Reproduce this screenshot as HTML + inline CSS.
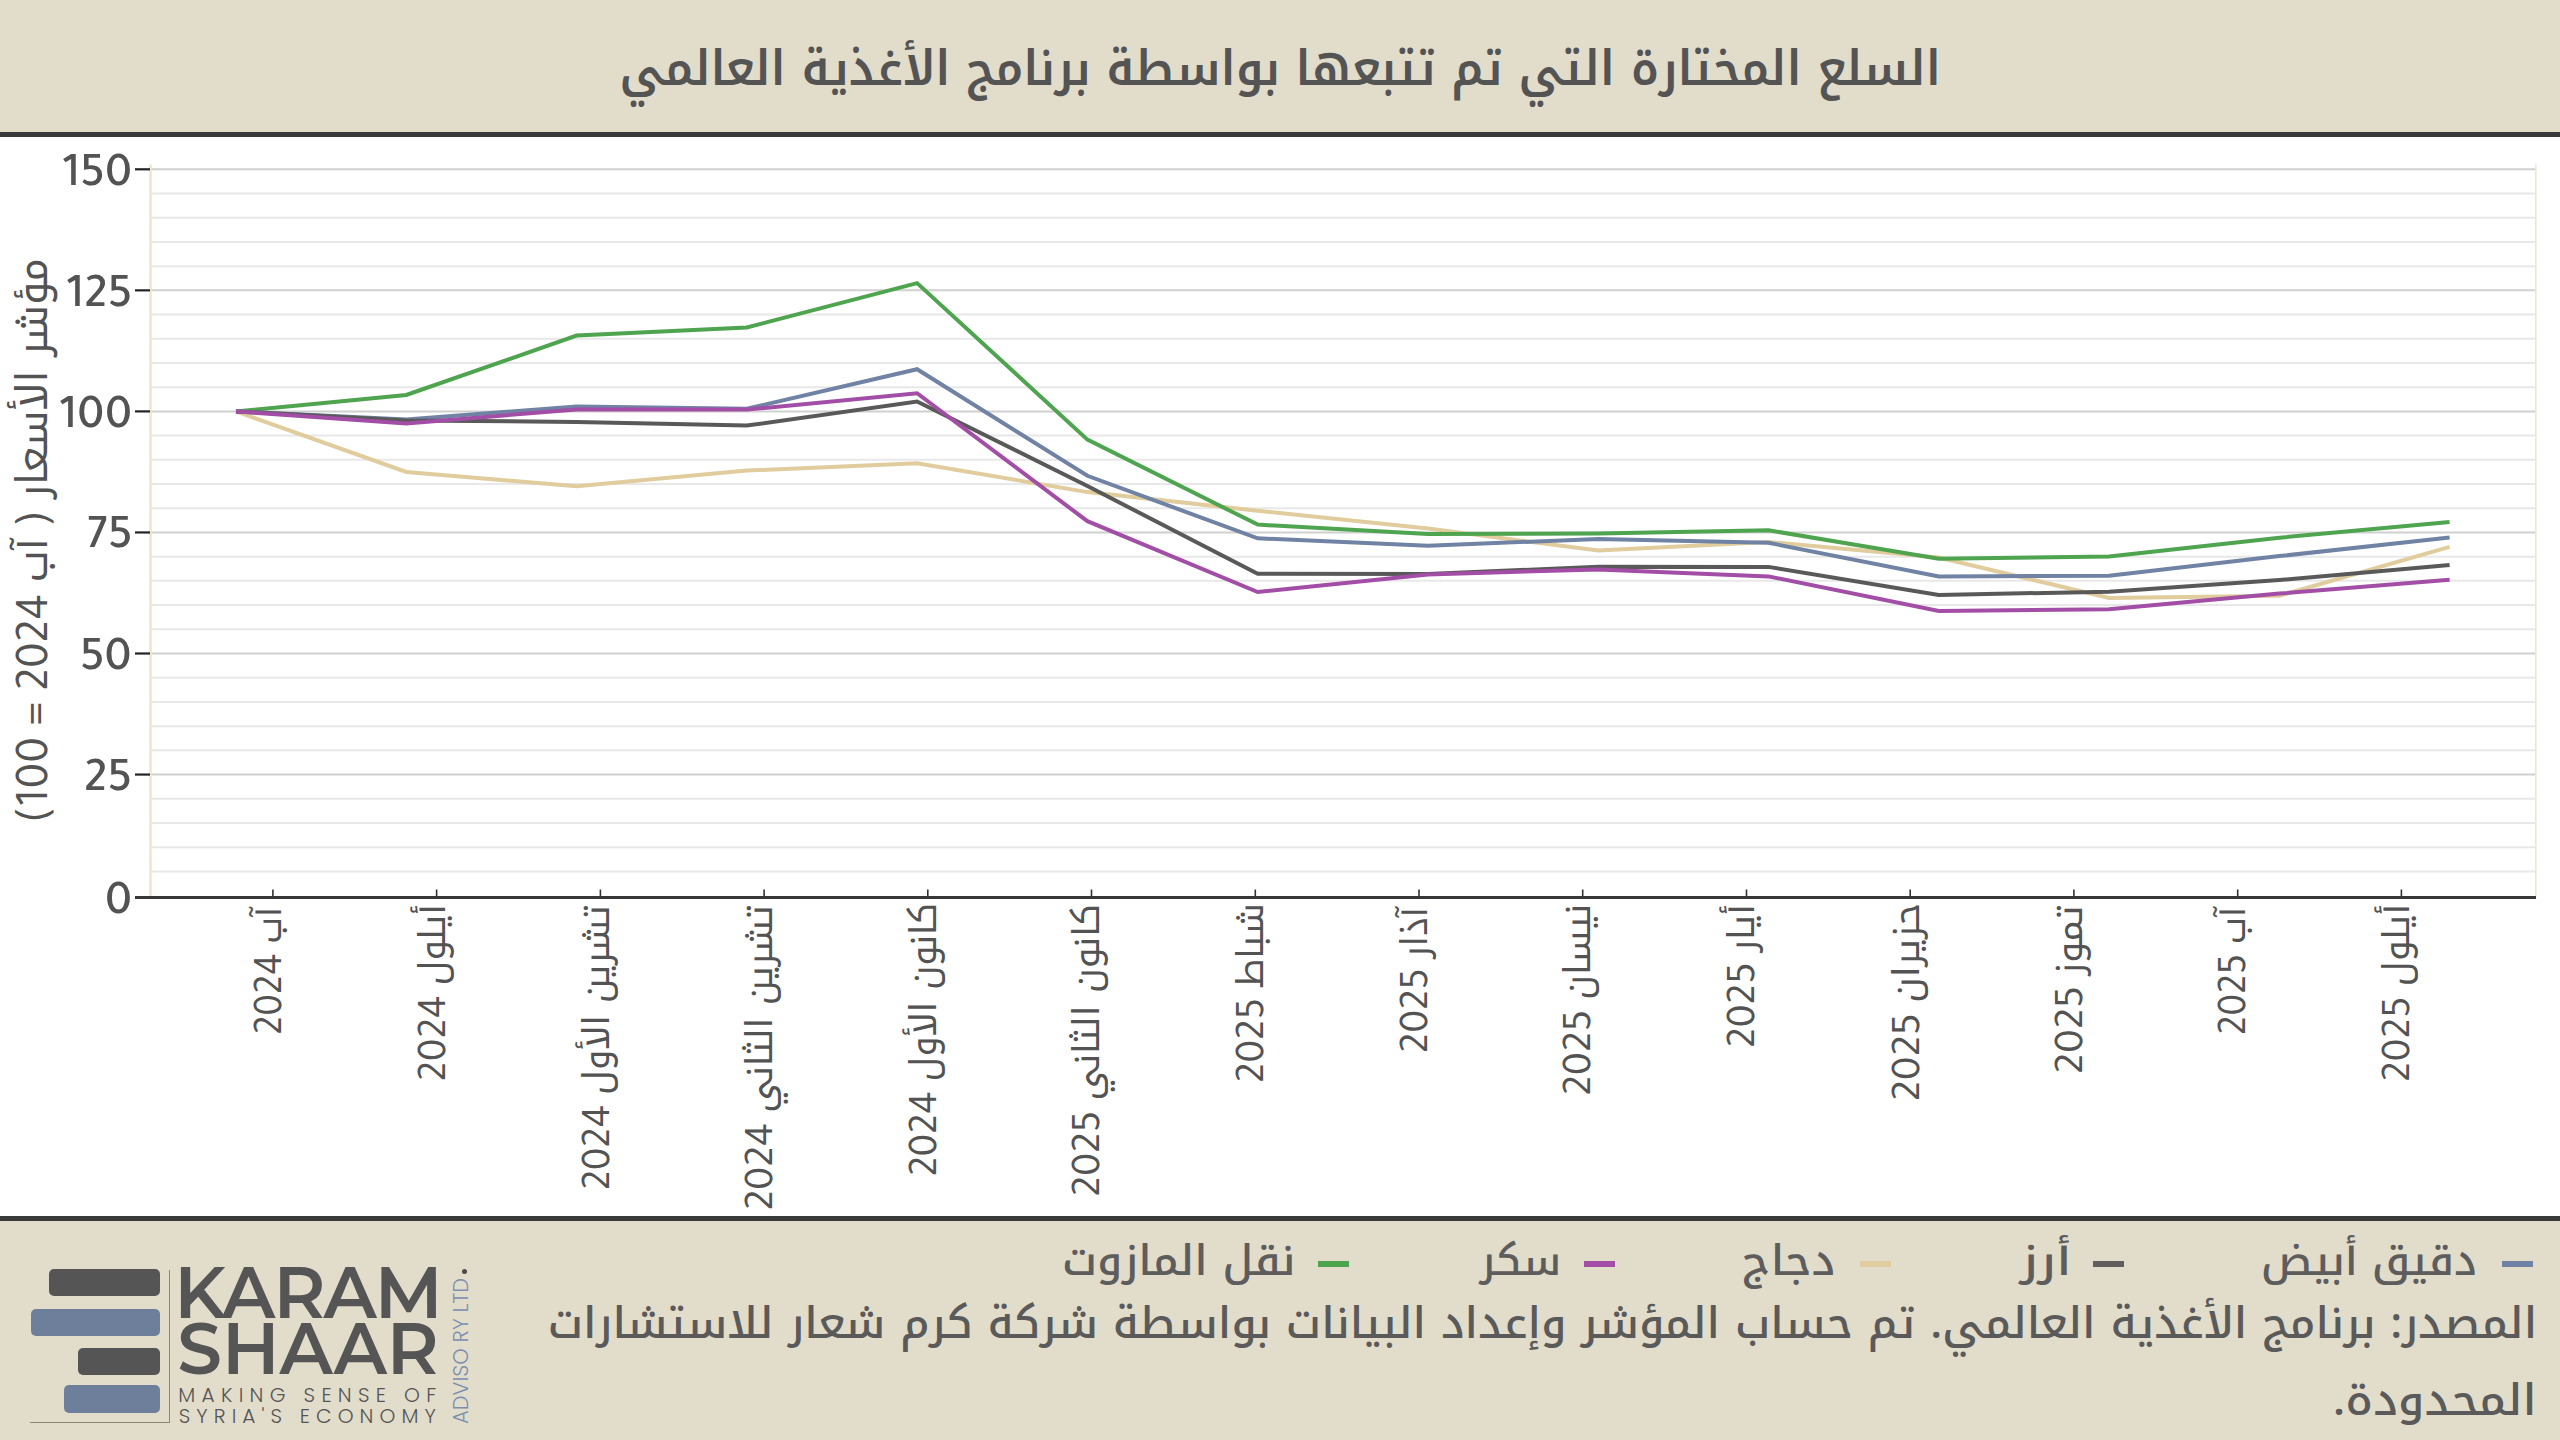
<!DOCTYPE html>
<html lang="ar"><head><meta charset="utf-8"><title>السلع المختارة التي تم تتبعها بواسطة برنامج الأغذية العالمي</title>
<style>
html,body{margin:0;padding:0}
body{width:2560px;height:1440px;position:relative;overflow:hidden;background:#fff}
.t{position:absolute;white-space:nowrap;direction:rtl;transform-origin:100% 50%}
.lt{position:absolute;white-space:nowrap}
.kx{font-family:'Noto Kufi Arabic','Almarai','Liberation Sans','DejaVu Sans',sans-serif;font-size:36.6px;line-height:0}
.ky{font-family:'Noto Kufi Arabic','Almarai','Liberation Sans','DejaVu Sans',sans-serif;font-size:42.9px;line-height:0}
svg{position:absolute;left:0;top:0}
</style></head><body>
<div style="position:absolute;left:0;top:0;width:2560px;height:132px;background:#e2dccb"></div>
<div style="position:absolute;left:0;top:132px;width:2560px;height:5px;background:#3a3a3a"></div>
<svg width="2560" height="1440" viewBox="0 0 2560 1440">
<line x1="151" x2="2535" y1="871.39" y2="871.39" stroke="#e8e8e8" stroke-width="2"/>
<line x1="151" x2="2535" y1="847.18" y2="847.18" stroke="#e8e8e8" stroke-width="2"/>
<line x1="151" x2="2535" y1="822.97" y2="822.97" stroke="#e8e8e8" stroke-width="2"/>
<line x1="151" x2="2535" y1="798.76" y2="798.76" stroke="#e8e8e8" stroke-width="2"/>
<line x1="151" x2="2535" y1="774.55" y2="774.55" stroke="#d0d0d0" stroke-width="2"/>
<line x1="151" x2="2535" y1="750.34" y2="750.34" stroke="#e8e8e8" stroke-width="2"/>
<line x1="151" x2="2535" y1="726.13" y2="726.13" stroke="#e8e8e8" stroke-width="2"/>
<line x1="151" x2="2535" y1="701.92" y2="701.92" stroke="#e8e8e8" stroke-width="2"/>
<line x1="151" x2="2535" y1="677.71" y2="677.71" stroke="#e8e8e8" stroke-width="2"/>
<line x1="151" x2="2535" y1="653.50" y2="653.50" stroke="#d0d0d0" stroke-width="2"/>
<line x1="151" x2="2535" y1="629.29" y2="629.29" stroke="#e8e8e8" stroke-width="2"/>
<line x1="151" x2="2535" y1="605.08" y2="605.08" stroke="#e8e8e8" stroke-width="2"/>
<line x1="151" x2="2535" y1="580.87" y2="580.87" stroke="#e8e8e8" stroke-width="2"/>
<line x1="151" x2="2535" y1="556.66" y2="556.66" stroke="#e8e8e8" stroke-width="2"/>
<line x1="151" x2="2535" y1="532.45" y2="532.45" stroke="#d0d0d0" stroke-width="2"/>
<line x1="151" x2="2535" y1="508.24" y2="508.24" stroke="#e8e8e8" stroke-width="2"/>
<line x1="151" x2="2535" y1="484.03" y2="484.03" stroke="#e8e8e8" stroke-width="2"/>
<line x1="151" x2="2535" y1="459.82" y2="459.82" stroke="#e8e8e8" stroke-width="2"/>
<line x1="151" x2="2535" y1="435.61" y2="435.61" stroke="#e8e8e8" stroke-width="2"/>
<line x1="151" x2="2535" y1="411.40" y2="411.40" stroke="#d0d0d0" stroke-width="2"/>
<line x1="151" x2="2535" y1="387.19" y2="387.19" stroke="#e8e8e8" stroke-width="2"/>
<line x1="151" x2="2535" y1="362.98" y2="362.98" stroke="#e8e8e8" stroke-width="2"/>
<line x1="151" x2="2535" y1="338.77" y2="338.77" stroke="#e8e8e8" stroke-width="2"/>
<line x1="151" x2="2535" y1="314.56" y2="314.56" stroke="#e8e8e8" stroke-width="2"/>
<line x1="151" x2="2535" y1="290.35" y2="290.35" stroke="#d0d0d0" stroke-width="2"/>
<line x1="151" x2="2535" y1="266.14" y2="266.14" stroke="#e8e8e8" stroke-width="2"/>
<line x1="151" x2="2535" y1="241.93" y2="241.93" stroke="#e8e8e8" stroke-width="2"/>
<line x1="151" x2="2535" y1="217.72" y2="217.72" stroke="#e8e8e8" stroke-width="2"/>
<line x1="151" x2="2535" y1="193.51" y2="193.51" stroke="#e8e8e8" stroke-width="2"/>
<line x1="151" x2="2535" y1="169.30" y2="169.30" stroke="#d0d0d0" stroke-width="2"/>
<line x1="150.5" x2="150.5" y1="164.5" y2="897" stroke="#efe4cc" stroke-width="2.5"/>
<line x1="2535.8" x2="2535.8" y1="164.5" y2="897" stroke="#ece6d2" stroke-width="1.6"/>
<line x1="135" x2="150" y1="897.50" y2="897.50" stroke="#222" stroke-width="2.2"/>
<line x1="135" x2="150" y1="774.55" y2="774.55" stroke="#222" stroke-width="2.2"/>
<line x1="135" x2="150" y1="653.50" y2="653.50" stroke="#222" stroke-width="2.2"/>
<line x1="135" x2="150" y1="532.45" y2="532.45" stroke="#222" stroke-width="2.2"/>
<line x1="135" x2="150" y1="411.40" y2="411.40" stroke="#222" stroke-width="2.2"/>
<line x1="135" x2="150" y1="290.35" y2="290.35" stroke="#222" stroke-width="2.2"/>
<line x1="135" x2="150" y1="169.30" y2="169.30" stroke="#222" stroke-width="2.2"/>
<polyline points="236.0,411.4 406.3,472.0 576.6,486.2 746.8,470.6 917.1,463.2 1087.4,492.1 1257.7,510.8 1428.0,528.5 1598.2,550.6 1768.5,541.9 1938.8,557.5 2109.1,598.0 2279.4,595.7 2449.6,546.9" fill="none" stroke="#e0cc9c" stroke-width="4" stroke-linejoin="miter"/>
<polyline points="236.0,411.4 406.3,395.0 576.6,335.6 746.8,327.5 917.1,283.1 1087.4,439.6 1257.7,524.6 1428.0,534.0 1598.2,533.6 1768.5,530.3 1938.8,558.8 2109.1,556.4 2279.4,537.7 2449.6,521.9" fill="none" stroke="#4fa44f" stroke-width="4" stroke-linejoin="miter"/>
<polyline points="236.0,411.4 406.3,419.5 576.6,406.5 746.8,408.8 917.1,369.2 1087.4,475.8 1257.7,538.3 1428.0,545.8 1598.2,538.9 1768.5,542.8 1938.8,576.5 2109.1,575.8 2279.4,556.1 2449.6,537.5" fill="none" stroke="#7083a4" stroke-width="4" stroke-linejoin="miter"/>
<polyline points="236.0,411.4 406.3,420.5 576.6,421.9 746.8,425.6 917.1,401.5 1087.4,486.0 1257.7,573.8 1428.0,574.0 1598.2,566.7 1768.5,566.9 1938.8,594.9 2109.1,591.7 2279.4,580.1 2449.6,565.0" fill="none" stroke="#595959" stroke-width="4" stroke-linejoin="miter"/>
<polyline points="236.0,411.4 406.3,423.5 576.6,409.4 746.8,409.6 917.1,393.2 1087.4,521.2 1257.7,592.0 1428.0,574.5 1598.2,569.4 1768.5,576.4 1938.8,610.9 2109.1,609.2 2279.4,593.6 2449.6,579.7" fill="none" stroke="#a24ea6" stroke-width="4" stroke-linejoin="miter"/>
<line x1="135" x2="2536" y1="897.5" y2="897.5" stroke="#383838" stroke-width="3"/>
<line x1="272.9" x2="272.9" y1="889.5" y2="897" stroke="#333" stroke-width="1.6"/>
<line x1="436.6" x2="436.6" y1="889.5" y2="897" stroke="#333" stroke-width="1.6"/>
<line x1="600.4" x2="600.4" y1="889.5" y2="897" stroke="#333" stroke-width="1.6"/>
<line x1="764.1" x2="764.1" y1="889.5" y2="897" stroke="#333" stroke-width="1.6"/>
<line x1="927.8" x2="927.8" y1="889.5" y2="897" stroke="#333" stroke-width="1.6"/>
<line x1="1091.5" x2="1091.5" y1="889.5" y2="897" stroke="#333" stroke-width="1.6"/>
<line x1="1255.3" x2="1255.3" y1="889.5" y2="897" stroke="#333" stroke-width="1.6"/>
<line x1="1419.0" x2="1419.0" y1="889.5" y2="897" stroke="#333" stroke-width="1.6"/>
<line x1="1582.7" x2="1582.7" y1="889.5" y2="897" stroke="#333" stroke-width="1.6"/>
<line x1="1746.5" x2="1746.5" y1="889.5" y2="897" stroke="#333" stroke-width="1.6"/>
<line x1="1910.2" x2="1910.2" y1="889.5" y2="897" stroke="#333" stroke-width="1.6"/>
<line x1="2073.9" x2="2073.9" y1="889.5" y2="897" stroke="#333" stroke-width="1.6"/>
<line x1="2237.7" x2="2237.7" y1="889.5" y2="897" stroke="#333" stroke-width="1.6"/>
<line x1="2401.4" x2="2401.4" y1="889.5" y2="897" stroke="#333" stroke-width="1.6"/>
</svg>
<div style="position:absolute;left:0;top:1216px;width:2560px;height:5px;background:#3a3a3a"></div>
<div style="position:absolute;left:0;top:1221px;width:2560px;height:219px;background:#e2dccb"></div>
<div class="t" style="right:619.54px;top:39.00px;font-family:'Noto Kufi Arabic','Almarai','Liberation Sans','DejaVu Sans',sans-serif;font-weight:580;font-size:48.300px;line-height:60.000px;color:#545454;transform:scaleX(0.9535)">السلع المختارة التي تم تتبعها بواسطة برنامج الأغذية العالمي</div>
<div class="t" style="right:83.20px;top:1230.60px;font-family:'Noto Kufi Arabic','Almarai','Liberation Sans','DejaVu Sans',sans-serif;font-weight:500;font-size:42.000px;line-height:60.000px;color:#5d5d5d;transform:scaleX(1.0043)">دقيق أبيض</div>
<div style="position:absolute;left:2502.3px;top:1261px;width:31px;height:6px;background:#7083a4"></div>
<div class="t" style="right:488.46px;top:1230.60px;font-family:'Noto Kufi Arabic','Almarai','Liberation Sans','DejaVu Sans',sans-serif;font-weight:500;font-size:42.000px;line-height:60.000px;color:#5d5d5d;transform:scaleX(1.1814)">أرز</div>
<div style="position:absolute;left:2093.0px;top:1261px;width:31px;height:6px;background:#5e5e5e"></div>
<div class="t" style="right:724.96px;top:1230.60px;font-family:'Noto Kufi Arabic','Almarai','Liberation Sans','DejaVu Sans',sans-serif;font-weight:500;font-size:42.000px;line-height:60.000px;color:#5d5d5d;transform:scaleX(1.0447)">دجاج</div>
<div style="position:absolute;left:1859.6px;top:1261px;width:31px;height:6px;background:#e0cc9c"></div>
<div class="t" style="right:999.29px;top:1230.60px;font-family:'Noto Kufi Arabic','Almarai','Liberation Sans','DejaVu Sans',sans-serif;font-weight:500;font-size:42.000px;line-height:60.000px;color:#5d5d5d;transform:scaleX(0.9864)">سكر</div>
<div style="position:absolute;left:1584.2px;top:1261px;width:31px;height:6px;background:#a24ea6"></div>
<div class="t" style="right:1264.96px;top:1230.60px;font-family:'Noto Kufi Arabic','Almarai','Liberation Sans','DejaVu Sans',sans-serif;font-weight:500;font-size:42.000px;line-height:60.000px;color:#5d5d5d;transform:scaleX(1.0356)">نقل المازوت</div>
<div style="position:absolute;left:1317.8px;top:1261px;width:31px;height:6px;background:#4fa44f"></div>
<div class="t" style="right:23.06px;top:1285.60px;font-family:'Noto Kufi Arabic','Almarai','Liberation Sans','DejaVu Sans',sans-serif;font-weight:500;font-size:43.500px;line-height:76.000px;color:#5a5a5a;transform:scaleX(1.0057)">المصدر: برنامج الأغذية العالمي. تم حساب المؤشر وإعداد البيانات بواسطة شركة كرم شعار للاستشارات</div>
<div class="t" style="right:23.48px;top:1362.80px;font-family:'Noto Kufi Arabic','Almarai','Liberation Sans','DejaVu Sans',sans-serif;font-weight:500;font-size:43.500px;line-height:76.000px;color:#5a5a5a;transform:scaleX(1.0529)">المحدودة.</div>
<div class="t" style="right:2427.61px;top:875.50px;font-family:'Tajawal','Almarai','Liberation Sans','DejaVu Sans',sans-serif;font-weight:500;font-size:49.000px;line-height:60.000px;color:#535353;direction:ltr">0</div>
<div class="t" style="right:2428.13px;top:753.05px;font-family:'Tajawal','Almarai','Liberation Sans','DejaVu Sans',sans-serif;font-weight:500;font-size:49.000px;line-height:60.000px;color:#535353;direction:ltr">25</div>
<div class="t" style="right:2427.96px;top:632.00px;font-family:'Tajawal','Almarai','Liberation Sans','DejaVu Sans',sans-serif;font-weight:500;font-size:49.000px;line-height:60.000px;color:#535353;direction:ltr">50</div>
<div class="t" style="right:2427.47px;top:510.45px;font-family:'Tajawal','Almarai','Liberation Sans','DejaVu Sans',sans-serif;font-weight:500;font-size:49.000px;line-height:60.000px;color:#535353;direction:ltr">75</div>
<div class="t" style="right:2427.55px;top:389.90px;font-family:'Tajawal','Almarai','Liberation Sans','DejaVu Sans',sans-serif;font-weight:500;font-size:49.000px;line-height:60.000px;color:#535353;direction:ltr">100</div>
<div class="t" style="right:2427.75px;top:268.85px;font-family:'Tajawal','Almarai','Liberation Sans','DejaVu Sans',sans-serif;font-weight:500;font-size:49.000px;line-height:60.000px;color:#535353;direction:ltr">125</div>
<div class="t" style="right:2427.58px;top:147.80px;font-family:'Tajawal','Almarai','Liberation Sans','DejaVu Sans',sans-serif;font-weight:500;font-size:49.000px;line-height:60.000px;color:#535353;direction:ltr">150</div>
<div class="t" style="right:2310.20px;top:907.07px;font-family:'Tajawal','Almarai','Liberation Sans','DejaVu Sans',sans-serif;font-weight:400;font-size:42.000px;line-height:50.000px;color:#535353;transform-origin:100% 0;transform:rotate(-90deg) scaleX(0.9400)"><span class="kx">آب</span> 2024</div>
<div class="t" style="right:2146.47px;top:904.10px;font-family:'Tajawal','Almarai','Liberation Sans','DejaVu Sans',sans-serif;font-weight:400;font-size:42.000px;line-height:50.000px;color:#535353;transform-origin:100% 0;transform:rotate(-90deg) scaleX(0.9903)"><span class="kx">أيلول</span> 2024</div>
<div class="t" style="right:1982.74px;top:905.34px;font-family:'Tajawal','Almarai','Liberation Sans','DejaVu Sans',sans-serif;font-weight:400;font-size:42.000px;line-height:50.000px;color:#535353;transform-origin:100% 0;transform:rotate(-90deg) scaleX(0.9843)"><span class="kx">تشرين الأول</span> 2024</div>
<div class="t" style="right:1819.01px;top:904.93px;font-family:'Tajawal','Almarai','Liberation Sans','DejaVu Sans',sans-serif;font-weight:400;font-size:42.000px;line-height:50.000px;color:#535353;transform-origin:100% 0;transform:rotate(-90deg) scaleX(1.0073)"><span class="kx">تشرين الثاني</span> 2024</div>
<div class="t" style="right:1655.28px;top:903.46px;font-family:'Tajawal','Almarai','Liberation Sans','DejaVu Sans',sans-serif;font-weight:400;font-size:42.000px;line-height:50.000px;color:#535353;transform-origin:100% 0;transform:rotate(-90deg) scaleX(0.9807)"><span class="kx">كانون الأول</span> 2024</div>
<div class="t" style="right:1491.55px;top:903.59px;font-family:'Tajawal','Almarai','Liberation Sans','DejaVu Sans',sans-serif;font-weight:400;font-size:42.000px;line-height:50.000px;color:#535353;transform-origin:100% 0;transform:rotate(-90deg) scaleX(1.0070)"><span class="kx">كانون الثاني</span> 2025</div>
<div class="t" style="right:1327.82px;top:903.25px;font-family:'Tajawal','Almarai','Liberation Sans','DejaVu Sans',sans-serif;font-weight:400;font-size:42.000px;line-height:50.000px;color:#535353;transform-origin:100% 0;transform:rotate(-90deg) scaleX(0.9943)"><span class="kx">شباط</span> 2025</div>
<div class="t" style="right:1164.09px;top:907.10px;font-family:'Tajawal','Almarai','Liberation Sans','DejaVu Sans',sans-serif;font-weight:400;font-size:42.000px;line-height:50.000px;color:#535353;transform-origin:100% 0;transform:rotate(-90deg) scaleX(0.9932)"><span class="kx">آذار</span> 2025</div>
<div class="t" style="right:1000.36px;top:903.57px;font-family:'Tajawal','Almarai','Liberation Sans','DejaVu Sans',sans-serif;font-weight:400;font-size:42.000px;line-height:50.000px;color:#535353;transform-origin:100% 0;transform:rotate(-90deg) scaleX(1.0054)"><span class="kx">نيسان</span> 2025</div>
<div class="t" style="right:836.63px;top:904.05px;font-family:'Tajawal','Almarai','Liberation Sans','DejaVu Sans',sans-serif;font-weight:400;font-size:42.000px;line-height:50.000px;color:#535353;transform-origin:100% 0;transform:rotate(-90deg) scaleX(1.0058)"><span class="kx">أيار</span> 2025</div>
<div class="t" style="right:672.90px;top:903.36px;font-family:'Tajawal','Almarai','Liberation Sans','DejaVu Sans',sans-serif;font-weight:400;font-size:42.000px;line-height:50.000px;color:#535353;transform-origin:100% 0;transform:rotate(-90deg) scaleX(1.0348)"><span class="kx">حزيران</span> 2025</div>
<div class="t" style="right:509.17px;top:904.75px;font-family:'Tajawal','Almarai','Liberation Sans','DejaVu Sans',sans-serif;font-weight:400;font-size:42.000px;line-height:50.000px;color:#535353;transform-origin:100% 0;transform:rotate(-90deg) scaleX(1.0350)"><span class="kx">تموز</span> 2025</div>
<div class="t" style="right:345.44px;top:906.70px;font-family:'Tajawal','Almarai','Liberation Sans','DejaVu Sans',sans-serif;font-weight:400;font-size:42.000px;line-height:50.000px;color:#535353;transform-origin:100% 0;transform:rotate(-90deg) scaleX(0.9541)"><span class="kx">آب</span> 2025</div>
<div class="t" style="right:181.71px;top:903.67px;font-family:'Tajawal','Almarai','Liberation Sans','DejaVu Sans',sans-serif;font-weight:400;font-size:42.000px;line-height:50.000px;color:#535353;transform-origin:100% 0;transform:rotate(-90deg) scaleX(1.0017)"><span class="kx">أيلول</span> 2025</div>
<div class="t" style="right:2548.10px;top:258.11px;font-family:'Tajawal','Almarai','Liberation Sans','DejaVu Sans',sans-serif;font-weight:400;font-size:48.300px;line-height:56.000px;color:#535353;transform-origin:100% 0;transform:rotate(-90deg) scaleX(0.9698)"><span class="ky">مؤشر الأسعار</span> ( <span class="ky">آب</span> 2024 = 100)</div>
<div style="position:absolute;left:49px;top:1269px;width:111px;height:27px;background:#555;border-radius:5px"></div>
<div style="position:absolute;left:31px;top:1308.5px;width:129px;height:27.5px;background:#6e7f9b;border-radius:5px"></div>
<div style="position:absolute;left:78px;top:1348px;width:82px;height:27px;background:#555;border-radius:5px"></div>
<div style="position:absolute;left:64px;top:1385px;width:96px;height:28px;background:#6e7f9b;border-radius:5px"></div>
<div style="position:absolute;left:168.7px;top:1270px;width:1px;height:153px;background:#8a8578"></div>
<div style="position:absolute;left:30px;top:1422.4px;width:139.7px;height:1px;background:#8a8578"></div>
<div class="lt" style="left:174.30px;top:1257.02px;font-family:'Montserrat','Liberation Sans',sans-serif;font-weight:600;font-size:71.143px;line-height:71.143px;color:#555;letter-spacing:-1.932px">KARAM</div>
<div class="lt" style="left:177.35px;top:1313.32px;font-family:'Montserrat','Liberation Sans',sans-serif;font-weight:600;font-size:71.143px;line-height:71.143px;color:#555;letter-spacing:-0.154px">SHAAR</div>
<div class="lt" style="left:178.29px;top:1382.56px;font-family:'Poppins','Montserrat','Liberation Sans',sans-serif;font-weight:300;font-size:20.143px;line-height:24.171px;color:#555;letter-spacing:6.308px">MAKING SENSE OF</div>
<div class="lt" style="left:178.69px;top:1403.66px;font-family:'Poppins','Montserrat','Liberation Sans',sans-serif;font-weight:300;font-size:20.143px;line-height:24.171px;color:#555;letter-spacing:6.092px">SYRIA'S ECONOMY</div>
<div class="lt" style="left:447.75px;top:1423.95px;font-family:'Poppins','Montserrat','Liberation Sans',sans-serif;font-weight:300;font-size:21.000px;line-height:25.200px;color:#7b8fb0;letter-spacing:0.013px;transform-origin:0 0;transform:rotate(-90deg)">ADVISO RY LTD</div>
<div style="position:absolute;left:461.9px;top:1268.6px;width:5.2px;height:5.2px;border-radius:50%;background:#4a4a4a"></div>
</body></html>
